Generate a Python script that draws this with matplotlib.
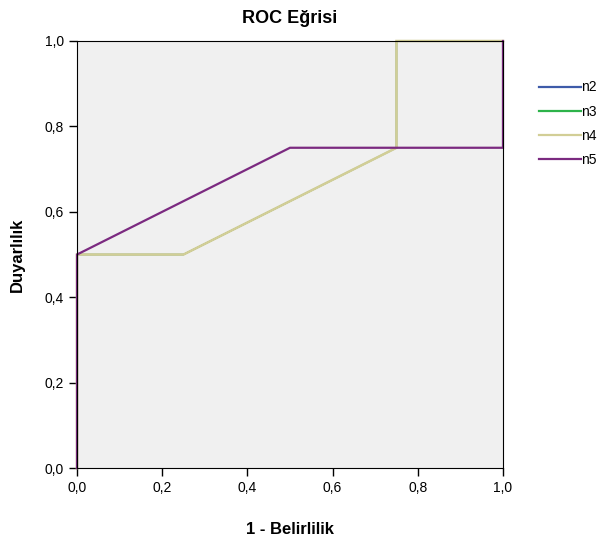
import matplotlib
matplotlib.use("Agg")
import matplotlib.pyplot as plt
from matplotlib.lines import Line2D

plt.rcParams['font.family'] = ['Liberation Sans', 'DejaVu Sans']

series_names = ["n2", "n3", "n4", "n5"]
fpr_n2 = [0.0, 0.0, 0.25, 0.75, 0.75, 1.0]
tpr_n2 = [0.0, 0.5, 0.5, 0.75, 1.0, 1.0]
fpr_n3 = [0.0, 0.0, 0.25, 0.75, 0.75, 1.0]
tpr_n3 = [0.0, 0.5, 0.5, 0.75, 1.0, 1.0]
fpr_n4 = [0.0, 0.0, 0.25, 0.75, 0.75, 1.0]
tpr_n4 = [0.0, 0.5, 0.5, 0.75, 1.0, 1.0]
fpr_n5 = [0.0, 0.0, 0.5, 1.0, 1.0]
tpr_n5 = [0.0, 0.5, 0.75, 0.75, 1.0]
colors = ["#3E5BA9", "#2DB34A", "#D2CE96", "#7B2A80"]
widths = [1.0, 1.0, 1.8, 1.6]
ticks = [0.0, 0.2, 0.4, 0.6, 0.8, 1.0]
tick_labels = ["0,0", "0,2", "0,4", "0,6", "0,8", "1,0"]

fig = plt.figure(figsize=(5.97, 5.43), dpi=100)
ax = fig.add_axes([0.129, 0.138, 0.8425 - 0.129, 0.9245 - 0.138])
ax.set_facecolor("#F0F0F0")

data = [(fpr_n2, tpr_n2), (fpr_n3, tpr_n3), (fpr_n4, tpr_n4), (fpr_n5, tpr_n5)]
for (x, y), c, w, name in zip(data, colors, widths, series_names):
    ax.plot(x, y, color=c, lw=w, label=name, clip_on=False, solid_joinstyle='miter')

ax.set_xlim(0, 1)
ax.set_ylim(0, 1)
ax.set_xticks(ticks)
ax.set_xticklabels(tick_labels)
ax.set_yticks(ticks)
ax.set_yticklabels(tick_labels)
ax.tick_params(direction='out', length=6, width=1, labelsize=10, colors='black')
for s in ax.spines.values():
    s.set_linewidth(0.8)
    s.set_color('black')

ax.set_title("ROC Eğrisi", fontsize=13, fontweight='bold', pad=13)
ax.set_xlabel("1 - Belirlilik", fontsize=12, fontweight='bold', labelpad=19)
ax.set_ylabel("Duyarlılık", fontsize=12, fontweight='bold', labelpad=14)

handles = [Line2D([], [], color=c, lw=1.6) for c in colors]
fig.legend(handles, series_names, loc='upper left', bbox_to_anchor=(0.903, 0.852),
           frameon=False, handlelength=3.0, handletextpad=0.05, labelspacing=0.73,
           fontsize=10, borderaxespad=0, borderpad=0)

fig.savefig("out.png", dpi=100)
